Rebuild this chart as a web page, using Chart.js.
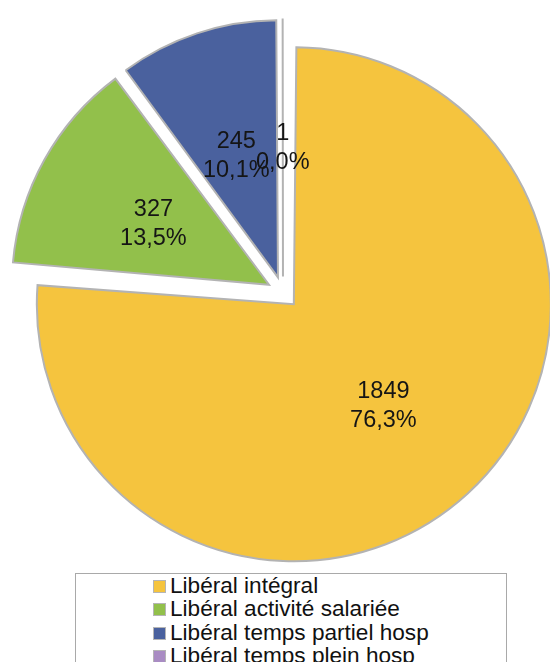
<!DOCTYPE html>
<html>
<head>
<meta charset="utf-8">
<script src="https://cdn.jsdelivr.net/npm/chart.js"></script>
<style>
  html, body { margin: 0; padding: 0; background: #ffffff; overflow: hidden; }
  #wrap { position: relative; width: 550px; height: 662px; }
  #c { position: absolute; left: 0; top: 0; }
  #legend {
    position: absolute; left: 75px; top: 573px; width: 432px; height: 120px;
    border: 1.5px solid #a9a9a9; background: #fff; box-sizing: border-box;
    padding: 0 0 0 77px;
    font-family: "Liberation Sans", Arial, sans-serif; font-size: 22.6px; line-height: 23.3px; color: #111;
  }
  .item { white-space: nowrap; position: relative; padding-left: 17px; }
  .sw { position: absolute; left: 0; top: 6px; width: 11px; height: 11px; border: 1px solid #b5b5b5; }
</style>
</head>
<body>
<div id="wrap">
  <canvas id="c" width="550" height="662"></canvas>
  <div id="legend"></div>
</div>
<script>
const categories = ["Libéral intégral", "Libéral activité salariée", "Libéral temps partiel hosp", "Libéral temps plein hosp"];
const values = [1849, 327, 245, 1];
const colors = ["#F5C43E", "#92C04B", "#4A619E", "#A98CC3"];

const RADIUS = 257;
const OFFSET = 64; // Chart.js translates arcs by offset/4

const total = values.reduce((a, b) => a + b, 0);

// keep every slice at the same outer radius (Chart.js enlarges offset arcs)
const equalRadius = {
  id: 'equalRadius',
  afterDatasetsUpdate(chart) {
    const meta = chart.getDatasetMeta(0);
    meta.data.forEach(arc => {
      const c = arc.endAngle - arc.startAngle;
      const fix = 1 - Math.sin(Math.min(Math.PI, c));
      arc.outerRadius = RADIUS - (OFFSET / 4) * fix;
    });
  }
};

const sliceLabels = {
  id: 'sliceLabels',
  afterDatasetsDraw(chart) {
    const ctx = chart.ctx;
    const meta = chart.getDatasetMeta(0);
    ctx.save();
    ctx.font = '23.5px "Liberation Sans", Arial, sans-serif';
    ctx.fillStyle = '#151515';
    ctx.textAlign = 'center';
    ctx.textBaseline = 'middle';
    meta.data.forEach((arc, i) => {
      const mid = (arc.startAngle + arc.endAngle) / 2;
      const d = OFFSET / 4 + RADIUS * 0.515;
      const x = arc.x + Math.cos(mid) * d;
      const y = arc.y + Math.sin(mid) * d + 4;
      const pct = (values[i] / total * 100).toFixed(1).replace('.', ',') + '%';
      ctx.fillText(String(values[i]), x, y - 14.5);
      ctx.fillText(pct, x, y + 14.5);
    });
    ctx.restore();
  }
};

new Chart(document.getElementById('c'), {
  type: 'pie',
  data: {
    labels: categories,
    datasets: [{
      data: values,
      backgroundColor: colors,
      borderColor: '#b3b3b3',
      borderWidth: 2,
      borderJoinStyle: 'miter',
      offset: OFFSET,
      hoverOffset: 0
    }]
  },
  options: {
    responsive: false,
    animation: false,
    events: [],
    radius: RADIUS,
    layout: { padding: { left: 16, right: 0, top: 0, bottom: 77 } },
    plugins: { legend: { display: false }, tooltip: { enabled: false } }
  },
  plugins: [equalRadius, sliceLabels]
});

const lg = document.getElementById('legend');
categories.forEach((name, i) => {
  const it = document.createElement('div');
  it.className = 'item';
  const sw = document.createElement('span');
  sw.className = 'sw';
  sw.style.background = colors[i];
  it.appendChild(sw);
  it.appendChild(document.createTextNode(name));
  lg.appendChild(it);
});
</script>
</body>
</html>
